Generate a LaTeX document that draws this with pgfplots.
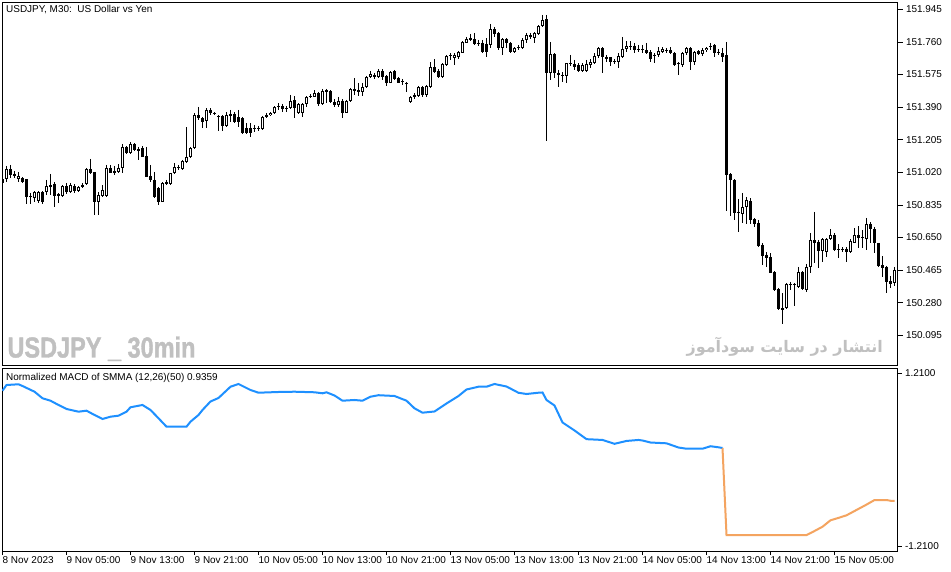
\documentclass[border=0pt]{standalone}
\usepackage{graphicx}
\usepackage{pgfplots}
\pgfplotsset{compat=1.18}
\usepackage{pgfplotstable}
\usepackage{fontspec}
\setmainfont{Liberation Sans}
\newfontfamily\wmfont[BoldFeatures={FakeBold=1.3}]{Liberation Sans}
\newfontfamily\arabicfont[Script=Arabic]{DejaVu Sans}
\TeXXeTstate=1

\definecolor{macdblue}{RGB}{30,144,255}
\definecolor{macdorange}{RGB}{244,164,96}
\definecolor{wmgray}{RGB}{192,192,192}

% USDJPY M30 bars: index, open, high, low, close
\pgfplotstableread{
i o h l c
0 150.982 150.994 150.948 150.960
1 150.982 151.056 150.965 151.039
2 151.039 151.062 150.988 151.005
3 151.011 151.028 150.988 151.000
4 150.982 151.022 150.965 151.000
5 150.988 150.994 150.960 150.965
6 150.982 150.982 150.840 150.880
7 150.886 150.903 150.840 150.880
8 150.874 150.914 150.852 150.908
9 150.857 150.914 150.846 150.908
10 150.908 150.914 150.840 150.852
11 150.908 150.977 150.891 150.942
12 150.937 151.011 150.891 150.948
13 150.954 150.965 150.823 150.886
14 150.897 150.903 150.846 150.886
15 150.886 150.948 150.880 150.942
16 150.942 150.960 150.897 150.908
17 150.908 150.960 150.903 150.948
18 150.942 150.954 150.903 150.914
19 150.914 150.942 150.908 150.937
20 150.937 150.960 150.931 150.948
21 150.954 151.045 150.948 151.039
22 151.039 151.096 151.011 151.016
23 151.022 151.022 150.778 150.852
24 150.852 150.908 150.778 150.891
25 150.886 150.948 150.880 150.920
26 150.886 151.062 150.880 151.045
27 151.045 151.062 151.016 151.016
28 151.028 151.056 151.005 151.016
29 151.022 151.067 151.016 151.045
30 151.045 151.181 151.016 151.164
31 151.164 151.169 151.124 151.130
32 151.130 151.192 151.124 151.181
33 151.181 151.186 151.141 151.147
34 151.152 151.164 151.090 151.141
35 151.158 151.169 151.105 151.107
36 151.113 151.164 150.994 150.994
37 151.000 151.062 150.965 150.977
38 150.977 151.022 150.874 150.880
39 150.931 150.937 150.835 150.852
40 150.852 150.965 150.852 150.960
41 150.954 150.977 150.948 150.965
42 150.954 151.016 150.948 151.016
43 151.016 151.073 151.011 151.050
44 151.050 151.062 151.033 151.045
45 151.039 151.090 151.033 151.084
46 151.079 151.277 151.073 151.107
47 151.107 151.164 151.101 151.158
48 151.158 151.357 151.152 151.345
49 151.345 151.391 151.317 151.328
50 151.328 151.334 151.272 151.306
51 151.311 151.385 151.272 151.374
52 151.374 151.385 151.345 151.357
53 151.357 151.362 151.345 151.351
54 151.340 151.345 151.255 151.334
55 151.340 151.345 151.255 151.283
56 151.283 151.362 151.277 151.345
57 151.340 151.374 151.306 151.351
58 151.351 151.362 151.300 151.306
59 151.334 151.374 151.277 151.306
60 151.328 151.334 151.238 151.243
61 151.272 151.300 151.238 151.243
62 151.272 151.300 151.221 151.243
63 151.272 151.289 151.249 151.266
64 151.266 151.283 151.255 151.272
65 151.266 151.340 151.260 151.334
66 151.334 151.357 151.328 151.345
67 151.345 151.362 151.340 151.357
68 151.357 151.396 151.351 151.391
69 151.391 151.413 151.374 151.396
70 151.396 151.408 151.362 151.379
71 151.379 151.396 151.362 151.385
72 151.385 151.459 151.379 151.425
73 151.431 151.453 151.328 151.385
74 151.357 151.413 151.351 151.408
75 151.357 151.413 151.334 151.408
76 151.408 151.453 151.391 151.448
77 151.448 151.465 151.442 151.453
78 151.448 151.487 151.448 151.470
79 151.470 151.476 151.396 151.408
80 151.408 151.493 151.402 151.482
81 151.476 151.493 151.413 151.487
82 151.482 151.487 151.413 151.419
83 151.419 151.436 151.391 151.402
84 151.402 151.448 151.391 151.425
85 151.425 151.436 151.328 151.357
86 151.357 151.431 151.357 151.425
87 151.425 151.499 151.419 151.493
88 151.482 151.555 151.459 151.493
89 151.487 151.527 151.453 151.476
90 151.476 151.527 151.453 151.504
91 151.504 151.567 151.499 151.561
92 151.561 151.595 151.555 151.578
93 151.572 151.584 151.550 151.561
94 151.561 151.606 151.555 151.595
95 151.595 151.606 151.544 151.561
96 151.567 151.572 151.510 151.527
97 151.527 151.595 151.527 151.589
98 151.595 151.601 151.544 151.550
99 151.555 151.561 151.527 151.527
100 151.533 151.550 151.516 151.538
101 151.527 151.533 151.476 151.521
102 151.419 151.453 151.413 151.448
103 151.448 151.470 151.436 151.459
104 151.453 151.510 151.448 151.504
105 151.504 151.510 151.448 151.459
106 151.459 151.516 151.448 151.510
107 151.504 151.646 151.499 151.618
108 151.618 151.663 151.584 151.589
109 151.595 151.606 151.555 151.561
110 151.561 151.640 151.555 151.635
111 151.629 151.686 151.623 151.680
112 151.680 151.697 151.658 151.686
113 151.669 151.697 151.629 151.686
114 151.674 151.709 151.663 151.703
115 151.697 151.765 151.697 151.760
116 151.754 151.788 151.754 151.777
117 151.771 151.805 151.765 151.782
118 151.777 151.811 151.743 151.748
119 151.754 151.771 151.737 151.748
120 151.754 151.771 151.697 151.703
121 151.748 151.782 151.674 151.703
122 151.743 151.862 151.726 151.833
123 151.833 151.845 151.788 151.805
124 151.811 151.816 151.714 151.726
125 151.726 151.782 151.686 151.777
126 151.777 151.782 151.726 151.754
127 151.754 151.760 151.697 151.703
128 151.703 151.731 151.697 151.726
129 151.726 151.743 151.714 151.731
130 151.726 151.782 151.720 151.771
131 151.771 151.811 151.754 151.799
132 151.799 151.811 151.777 151.788
133 151.782 151.816 151.754 151.811
134 151.805 151.856 151.799 151.850
135 151.850 151.913 151.845 151.884
136 151.890 151.913 151.198 151.584
137 151.584 151.760 151.544 151.692
138 151.692 151.697 151.555 151.584
139 151.584 151.601 151.504 151.572
140 151.572 151.589 151.533 151.567
141 151.567 151.640 151.527 151.640
142 151.640 151.686 151.623 151.635
143 151.635 151.658 151.601 151.618
144 151.629 151.640 151.589 151.595
145 151.595 151.640 151.589 151.629
146 151.595 151.658 151.589 151.635
147 151.629 151.663 151.612 151.646
148 151.640 151.697 151.635 151.680
149 151.680 151.731 151.669 151.726
150 151.726 151.731 151.584 151.674
151 151.674 151.686 151.646 151.663
152 151.674 151.674 151.623 151.646
153 151.652 151.663 151.635 151.646
154 151.646 151.697 151.612 151.680
155 151.674 151.788 151.669 151.720
156 151.720 151.765 151.703 151.737
157 151.737 151.765 151.714 151.731
158 151.737 151.754 151.697 151.714
159 151.714 151.743 151.703 151.720
160 151.720 151.743 151.697 151.714
161 151.714 151.754 151.692 151.697
162 151.703 151.714 151.646 151.663
163 151.680 151.697 151.640 151.686
164 151.686 151.731 151.674 151.709
165 151.703 151.731 151.697 151.720
166 151.714 151.726 151.697 151.709
167 151.714 151.731 151.692 151.697
168 151.697 151.703 151.623 151.629
169 151.635 151.646 151.572 151.640
170 151.629 151.703 151.618 151.697
171 151.697 151.731 151.686 151.726
172 151.726 151.731 151.601 151.646
173 151.646 151.709 151.629 151.703
174 151.709 151.714 151.686 151.692
175 151.692 151.726 151.680 151.714
176 151.714 151.731 151.703 151.726
177 151.731 151.754 151.714 151.737
178 151.743 151.748 151.674 151.697
179 151.703 151.720 151.686 151.697
180 151.697 151.726 151.646 151.674
181 151.686 151.760 150.801 151.005
182 151.011 151.016 150.772 150.977
183 150.977 150.982 150.750 150.789
184 150.795 150.869 150.681 150.789
185 150.784 150.903 150.733 150.823
186 150.823 150.880 150.727 150.863
187 150.857 150.874 150.727 150.750
188 150.755 150.761 150.710 150.727
189 150.733 150.750 150.596 150.602
190 150.608 150.619 150.494 150.545
191 150.551 150.568 150.483 150.534
192 150.540 150.562 150.449 150.449
193 150.454 150.460 150.347 150.352
194 150.358 150.364 150.239 150.244
195 150.250 150.335 150.159 150.239
196 150.250 150.392 150.244 150.386
197 150.386 150.398 150.352 150.381
198 150.381 150.392 150.261 150.386
199 150.369 150.483 150.364 150.454
200 150.454 150.460 150.352 150.358
201 150.352 150.500 150.341 150.483
202 150.483 150.676 150.449 150.636
203 150.636 150.795 150.506 150.619
204 150.625 150.636 150.477 150.574
205 150.574 150.647 150.511 150.642
206 150.568 150.647 150.540 150.642
207 150.642 150.698 150.636 150.664
208 150.664 150.676 150.574 150.579
209 150.585 150.613 150.534 150.579
210 150.579 150.596 150.568 150.585
211 150.585 150.596 150.511 150.568
212 150.568 150.642 150.562 150.630
213 150.619 150.704 150.619 150.664
214 150.664 150.715 150.591 150.647
215 150.647 150.693 150.591 150.653
216 150.642 150.761 150.579 150.727
217 150.727 150.738 150.619 150.698
218 150.698 150.710 150.562 150.619
219 150.619 150.619 150.483 150.489
220 150.494 150.545 150.426 150.477
221 150.483 150.489 150.335 150.398
222 150.403 150.432 150.364 150.386
223 150.392 150.483 150.375 150.466
}\candles

% normalized MACD, rising part (blue) and falling part (orange)
\pgfplotstableread{
i v
0 0.966
1 1.046
4 1.056
5 1.032
8 0.952
10 0.860
12 0.826
14 0.766
16 0.710
19 0.672
21 0.686
23 0.626
25 0.570
27 0.602
29 0.616
31 0.672
32 0.734
35 0.766
37 0.696
39 0.580
41 0.462
46 0.462
47 0.532
49 0.626
50 0.696
52 0.815
54 0.864
57 1.022
59 1.060
62 0.976
64 0.938
69 0.948
73 0.952
78 0.944
80 0.930
81 0.944
83 0.899
85 0.826
88 0.836
90 0.826
92 0.882
94 0.903
98 0.892
101 0.826
103 0.719
105 0.658
108 0.675
111 0.787
112 0.822
114 0.892
116 0.983
119 1.022
121 1.022
123 1.060
126 1.025
129 0.937
131 0.920
134 0.938
135 0.941
136 0.836
138 0.759
140 0.521
143 0.409
146 0.287
150 0.276
153 0.222
156 0.262
159 0.276
160 0.268
162 0.240
166 0.229
169 0.170
171 0.153
175 0.153
177 0.188
179 0.173
180 0.163
}\macdup

\pgfplotstableread{
i v
180 0.163
181 -1.056
201 -1.056
203 -1.000
205 -0.940
207 -0.850
209 -0.816
211 -0.780
214 -0.690
216 -0.630
218 -0.566
221 -0.566
222 -0.576
223 -0.576
}\macddown

\pgfplotsset{
  mtpanel/.style={
    scale only axis,
    width=895.5bp,
    xmin=-0.125, xmax=223.75,
    axis line style={black, line width=0.8bp},
    tick style={black, line width=0.8bp},
    tick align=outside,
    major tick length=5bp,
    ytick pos=right,
    yticklabel style={font=\fontsize{10}{12}\selectfont, anchor=west},
    /pgf/number format/assume math mode=true,
  },
  candlebar/.style 2 args={draw=none, mark=none,
    error bars/.cd, y dir=minus, y explicit, error mark=none,
    error bar style={draw=#1, line width=#2}},
}

\begin{document}
\begin{tikzpicture}
\useasboundingbox (0,0) rectangle (951bp,572bp);
\fill[white] (0,0) rectangle (951bp,572bp);

% price panel
\begin{axis}[mtpanel,
    at={(2bp,207bp)}, anchor=south west,
    height=363bp,
    ymin=149.9266, ymax=151.9866,
    xtick=\empty,
    ytick={150.095,150.280,150.465,150.650,150.835,151.020,151.205,151.390,151.575,151.760,151.945},
    yticklabel style={/pgf/number format/.cd, fixed, fixed zerofill, precision=3},
  ]
  % wicks
  \addplot[candlebar={black}{1bp}]
    table[x=i, y=h, y error minus expr=\thisrow{h}-\thisrow{l}] {\candles};
  % bodies
  \addplot[candlebar={black}{3bp}]
    table[x=i, y expr={max(\thisrow{o},\thisrow{c})},
          y error minus expr={abs(\thisrow{o}-\thisrow{c})}] {\candles};
  % hollow inside of rising bars (zero length for falling bars)
  \addplot[candlebar={white}{1bp}]
    table[x=i, y expr={max(\thisrow{o},\thisrow{c})-0.0057},
          y error minus expr={max(\thisrow{c}-\thisrow{o}-0.0114,0)}] {\candles};
\end{axis}

% indicator panel
\begin{axis}[mtpanel,
    at={(2bp,21bp)}, anchor=south west,
    height=183bp,
    ymin=-1.2801, ymax=1.2843,
    ytick={-1.21,1.21},
    yticklabel style={/pgf/number format/.cd, fixed, fixed zerofill, precision=4},
    xtick={0,16,32,48,64,80,96,112,128,144,160,176,192,208},
    xticklabels={8 Nov 2023,9 Nov 05:00,9 Nov 13:00,9 Nov 21:00,10 Nov 05:00,10 Nov 13:00,10 Nov 21:00,13 Nov 05:00,13 Nov 13:00,13 Nov 21:00,14 Nov 05:00,14 Nov 13:00,14 Nov 21:00,15 Nov 05:00},
    xtick pos=bottom,
    major tick length=4bp,
    xticklabel style={font=\fontsize{10}{12}\selectfont, anchor=north west, inner sep=0pt, yshift=-1bp},
  ]
  \addplot[macdblue, line width=2bp, mark=none] table[x=i, y=v] {\macdup};
  \addplot[macdorange, line width=2bp, mark=none] table[x=i, y=v] {\macddown};
\end{axis}

% captions and watermarks
\node[anchor=base west, inner sep=0pt, font=\fontsize{10}{12}\selectfont]
  at (6bp,559.5bp) {USDJPY, M30:\ \ US Dollar vs Yen};
\node[anchor=base west, inner sep=0pt, font=\fontsize{10}{12}\selectfont]
  at (6bp,191bp) {Normalized MACD of SMMA (12,26)(50) 0.9359};
\node[anchor=base west, inner sep=0pt, text=wmgray, font=\wmfont\bfseries\fontsize{29}{30}\selectfont]
  at (7.3bp,214.5bp) {\resizebox{188bp}{\height}{USDJPY \_ 30min}};
\node[anchor=east, inner sep=0pt, text=wmgray, font=\fontsize{16}{20}\selectfont]
  at (883bp,225bp) {\arabicfont\bfseries\beginR انتشار در سایت سودآموز\endR};
\end{tikzpicture}
\end{document}
